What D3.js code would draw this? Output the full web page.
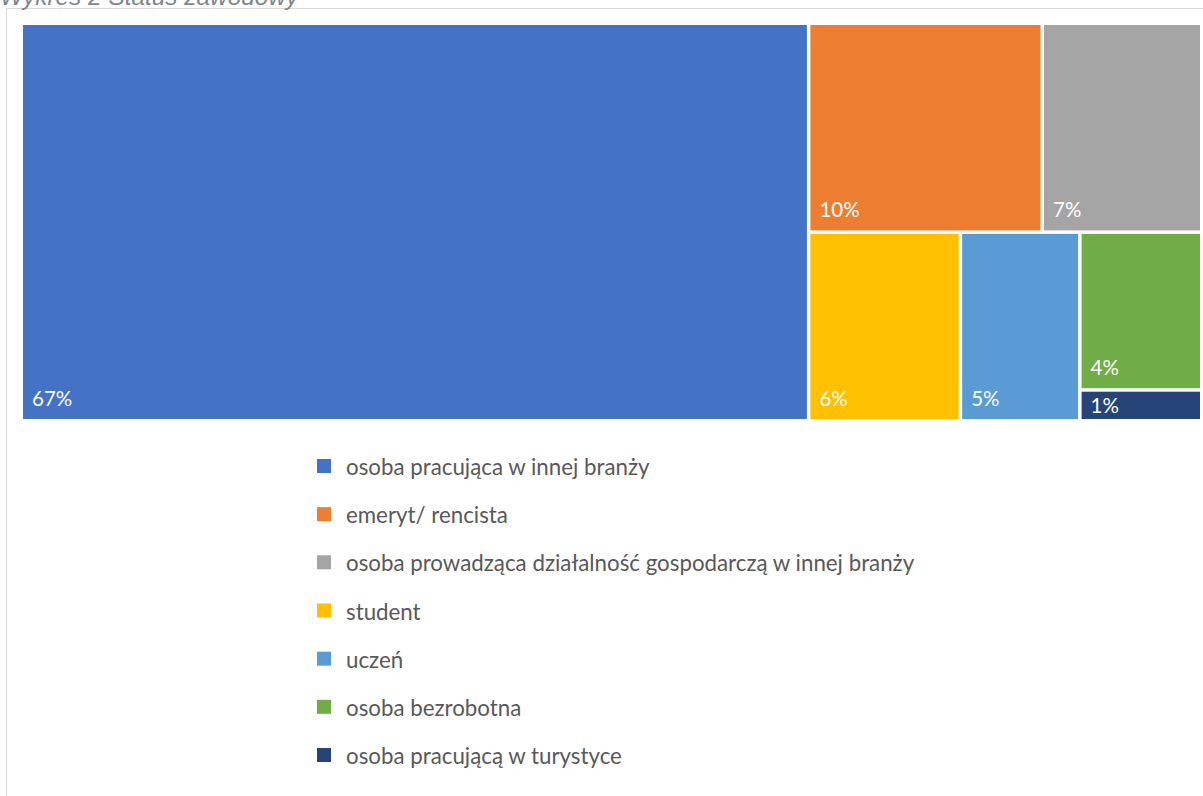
<!DOCTYPE html>
<html><head><meta charset="utf-8">
<script src="https://cdn.jsdelivr.net/npm/d3@7"></script>
<style>html,body{margin:0;padding:0;background:#fff;overflow:hidden}</style>
</head><body>
<svg id="chart" width="1203" height="796"></svg>
<script>
const title = "Wykres 2 Status zawodowy";
const categories = [
  "osoba pracująca w innej branży",
  "emeryt/ rencista",
  "osoba prowadząca działalność gospodarczą w innej branży",
  "student",
  "uczeń",
  "osoba bezrobotna",
  "osoba pracującą w turystyce"
];
const values = [66.7, 10.4, 7.1, 6.1, 4.8, 4.1, 0.8];
const colors = ["#4472C4", "#ED7D31", "#A5A5A5", "#FFC000", "#5B9BD5", "#70AD47", "#264478"];

const svg = d3.select("#chart");

// frame
svg.append("path").attr("d", "M6.5,796 V8.5 H1203").attr("fill", "none").attr("stroke", "#d9d9d9").attr("stroke-width", 1);

// title (clipped at top, as in the source)
svg.append("text").attr("x", 0).attr("y", 5).text(title)
  .attr("font-family", "Liberation Sans, Arial, sans-serif").attr("font-style", "italic")
  .attr("font-size", 24.4).attr("fill", "#7f8790");

const W = 1177, H = 394;
const data = categories.map((c, i) => ({name: c, value: values[i], color: colors[i]}));
const root = d3.hierarchy({children: data}).sum(d => d.value || 0);
d3.treemap().tile(d3.treemapSquarify.ratio(1)).size([W, H]).paddingInner(3.5).round(false)(root);

const g = svg.append("g").attr("transform", "translate(23,25)");
const leaves = g.selectAll("g.tile").data(root.leaves()).join("g").attr("class", "tile");
leaves.append("rect")
  .attr("x", d => d.x0).attr("y", d => d.y0)
  .attr("width", d => Math.max(0, d.x1 - d.x0))
  .attr("height", d => Math.max(0, d.y1 - d.y0))
  .attr("fill", d => d.data.color);
leaves.append("text")
  .attr("x", d => d.x0 + 9)
  .attr("y", d => Math.max(d.y1 - 13, d.y0 + 21))
  .text(d => Math.round(d.data.value) + "%")
  .attr("font-family", "Lato, sans-serif").attr("font-size", 20.5).attr("fill", "#fff");

// legend
const ly = d3.scalePoint().domain(categories).range([466, 755]);
const lg = svg.selectAll("g.leg").data(data).join("g").attr("class", "leg")
  .attr("transform", d => `translate(0,${ly(d.name)})`);
lg.append("rect").attr("x", 317).attr("y", -7).attr("width", 14).attr("height", 14).attr("fill", d => d.color);
lg.append("text").attr("x", 346).attr("y", 9).text(d => d.name)
  .attr("font-family", "Lato, sans-serif").attr("font-size", 22.3).attr("fill", "#595959");
</script>
</body></html>
